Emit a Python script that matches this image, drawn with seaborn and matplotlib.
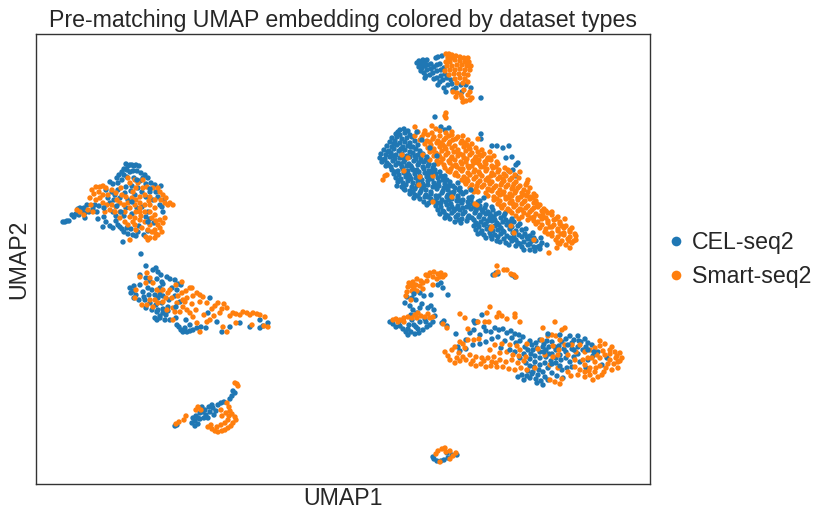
import pandas as pd
import matplotlib.pyplot as plt
import seaborn as sns

# point positions read off the picture, no real UMAP units available
# x goes left to right, y goes top to bottom
blue_left = [(63,222),(65,222),(67,221),(69,221),(72,215),(74,217),(76,214),(78,209),(80,208),(82,211),(84,208),(85,213),
    (87,205),(85,218),(79,215),(89,212),(93,209),(95,205),(97,212),(99,206),(98,219),(126,164),(128,166),(130,165),(132,165),
    (134,166),(136,165),(139,166),(124,169),(127,170),(122,172),(119,175),(117,178),(133,171),(137,171),(141,173),(145,175),
    (148,178),(151,183),(155,185),(113,184),(110,182),(118,183),(127,177),(122,180),(134,178),(140,181),(146,184),(106,190),
    (112,192),(118,190),(126,187),(132,186),(138,188),(125,193),(120,198),(114,200),(108,198),(128,200),(135,195),(142,192),
    (150,192),(156,192),(162,207),(163,212),(160,205),(164,200),(158,197),(103,227),(110,226),(113,228),(118,225),(120,227),
    (122,229),(124,232),(128,234),(133,235),(131,229),(136,236),(138,232),(144,235),(148,231),(123,242),(116,216),(124,216),
    (132,214),(104,217),(146,217),(150,219),(142,207),(126,208),(113,212),(161,186),(153,200),(130,172),(124,175),(143,178),
    (115,195),(110,203),(106,222),(116,221),(127,228),(139,226),(154,223),(148,212),(137,208),(131,191),(146,197)]
orange_left = [(92,190),(96,187),(100,187),(103,186),(106,188),(94,194),(99,192),(103,195),(108,195),(112,190),(116,193),
    (121,188),(130,183),(128,178),(135,180),(138,183),(143,180),(147,187),(153,188),(158,188),(160,192),(163,195),(166,198),
    (170,203),(173,205),(168,205),(165,203),(161,200),(155,200),(150,197),(145,195),(140,197),(136,200),(132,198),(128,203),
    (124,205),(120,203),(116,207),(112,205),(107,205),(103,203),(100,198),(90,198),(96,200),(93,212),(88,210),(80,212),(77,210),
    (84,215),(91,205),(105,212),(110,210),(115,212),(120,212),(125,212),(130,208),(135,205),(140,203),(145,205),(150,205),
    (155,208),(136,212),(140,212),(145,212),(150,212),(155,215),(160,220),(165,218),(163,223),(158,225),(155,230),(150,225),
    (145,222),(140,220),(135,218),(130,217),(125,222),(120,218),(128,225),(135,225),(160,228),(162,232),(158,235),(155,238),
    (150,238),(146,237),(152,232),(142,228),(136,230),(130,240),(156,234),(148,240),(143,188),(133,192),(122,195),(140,208),
    (149,201),(156,221),(141,216),(133,222),(152,218),(117,200),(126,197),(136,188),(148,230)]

blue_mid = [(141,254),(146,266),(153,270),(156,268),(158,272),(161,275),(140,275),(146,278),(150,281),(157,279),(162,282),
    (167,277),(130,288),(131,293),(134,286),(136,295),(140,285),(143,292),(148,288),(152,290),(160,288),(163,284),(170,279),
    (175,280),(178,284),(134,298),(139,300),(144,297),(155,295),(158,298),(163,296),(172,288),(177,290),(181,285),(150,303),
    (156,305),(162,303),(169,300),(146,308),(152,310),(157,312),(163,309),(168,307),(175,296),(180,302),(155,318),(160,316),
    (166,315),(170,320),(157,320),(165,320),(183,332),(177,325),(193,330),(197,328),(208,313),(210,298),(217,322),(240,323),
    (250,327),(260,328),(268,323),(260,320),(230,327),(222,332),(185,328),(190,331),(181,330),(206,328),(163,313),(176,318),
    (160,318),(168,311),(158,310),(187,332),(179,327),(201,327),(145,300),(149,295),(133,291),(186,320),(263,326)]
orange_mid = [(140,277),(150,278),(153,283),(157,290),(150,300),(147,305),(153,307),(163,302),(170,290),(182,282),(190,288),
    (197,293),(203,297),(207,303),(200,302),(218,303),(227,308),(220,313),(233,313),(240,315),(247,313),(253,313),(260,315),
    (265,317),(268,327),(252,325),(223,327),(200,332),(190,313),(183,307),(177,303),(182,293),(187,298),(193,317),(173,320),
    (167,310),(207,322),(197,323),(135,298),(136,290),(146,283),(158,303),(172,298),(168,293),(176,285),(186,291),(193,296),
    (192,304),(187,310),(180,312),(212,309),(215,306),(224,304),(230,316),(214,316),(204,315),(236,323),(227,332),(264,326),
    (243,312),(257,314),(163,290),(178,296),(173,308),(155,300),(142,305),(147,273),(166,298),(175,312),(185,302),(196,310),
    (200,295),(222,309),(236,314),(250,315),(210,320),(160,293),(183,300),(192,288)]

blue_low = [(175,426),(177,425),(192,423),(193,418),(195,421),(198,418),(200,413),(200,419),(203,412),(205,410),(206,415),
    (209,407),(210,412),(212,405),(213,408),(216,411),(218,405),(221,403),(224,402),(204,418),(208,418),(198,424),(195,426),
    (233,391),(235,393),(232,396),(230,399),(214,415),(202,407),(196,416)]
orange_low = [(235,383),(237,384),(238,386),(176,424),(179,422),(184,420),(186,416),(196,410),(198,407),(201,410),(221,410),
    (227,403),(229,407),(230,411),(232,414),(235,417),(236,420),(233,423),(231,426),(228,428),(225,430),(222,431),(218,432),
    (215,431),(212,429),(228,420),(225,423),(221,425),(217,427),(211,425),(208,427),(229,416),(222,416),(226,413)]

blue_top = [(417,63),(419,61),(421,64),(423,60),(425,62),(427,60),(419,67),(422,68),(425,66),(428,65),(431,64),(421,71),(424,73),
    (427,70),(431,69),(434,67),(437,65),(440,64),(438,57),(436,58),(442,56),(426,76),(430,75),(433,73),(437,71),(441,70),(444,68),
    (425,78),(434,79),(437,78),(441,76),(445,74),(440,82),(443,80),(447,78),(451,80),(438,85),(444,88),(448,85),(452,84),(446,92),
    (453,90),(456,88),(461,85),(466,85),(471,88),(481,98),(462,92)]
orange_top = [(446,54),(449,54),(452,55),(448,58),(452,58),(456,56),(460,57),(464,58),(468,58),(446,62),(450,62),(455,60),(460,61),
    (465,62),(469,62),(447,66),(452,66),(457,65),(462,65),(467,66),(471,66),(445,71),(450,70),(455,70),(460,69),(465,70),(470,70),
    (449,75),(454,74),(459,74),(464,74),(468,75),(455,79),(460,78),(465,79),(457,83),(463,83),(468,82),(453,92),(457,93),(461,95),
    (464,90),(468,95),(470,92),(472,98),(456,97),(462,98),(466,101),(470,100),(463,102)]

blue_big = [(435,117),(400,130),(404,129),(408,131),(396,134),(400,135),(405,133),(410,135),(392,138),(397,137),(402,139),(407,138),
    (412,137),(390,142),(395,141),(400,143),(405,142),(410,143),(415,141),(387,146),(392,147),(397,145),(403,147),(408,146),(413,147),
    (418,145),(384,150),(389,151),(394,149),(399,151),(405,150),(410,152),(416,149),(420,151),(381,154),(386,155),(391,153),(396,155),
    (402,154),(407,156),(413,153),(418,155),(423,154),(380,158),(385,159),(390,157),(395,159),(400,158),(405,160),(410,157),(416,159),
    (421,158),(426,160),(382,162),(387,163),(393,161),(398,163),(404,162),(409,164),(414,161),(419,163),(424,162),(429,164),(386,166),
    (391,167),(396,165),(402,167),(407,166),(412,168),(418,165),(423,167),(428,166),(433,168),(392,170),(398,171),(403,169),(408,171),
    (413,170),(419,172),(424,169),(429,171),(435,170),(394,174),(399,175),(404,173),(409,175),(415,174),(420,176),(425,173),(430,175),
    (436,174),(441,176),(396,178),(401,179),(406,177),(411,179),(416,178),(422,180),(427,177),(432,179),(438,178),(443,180),(398,182),
    (403,183),(408,181),(413,183),(418,182),(423,184),(428,181),(434,183),(439,182),(445,184),(450,182),(397,186),(402,187),(406,185),
    (412,187),(417,186),(422,188),(428,185),(433,187),(439,186),(444,188),(450,186),(455,188),(405,190),(410,191),(415,189),(421,191),
    (426,190),(431,192),(437,189),(443,191),(448,190),(454,192),(459,190),(410,194),(415,195),(420,193),(426,195),(431,194),(436,196),
    (442,193),(448,195),(453,194),(458,196),(463,194),(414,198),(420,199),(425,197),(431,199),(437,198),(442,200),(447,197),(452,199),
    (458,198),(463,200),(469,198),(424,202),(429,203),(435,201),(441,203),(446,202),(451,204),(457,201),(462,203),(468,202),(473,204),
    (478,202),(436,206),(441,207),(447,205),(452,207),(458,206),(463,208),(469,205),(474,207),(480,206),(485,208),(438,210),(443,211),
    (449,209),(454,211),(460,210),(465,212),(471,209),(476,211),(482,210),(488,212),(493,210),(440,214),(446,215),(452,213),(458,215),
    (463,214),(469,216),(475,213),(480,215),(486,214),(491,216),(496,214),(445,218),(450,219),(456,217),(462,219),(468,218),(474,220),
    (479,217),(484,219),(490,218),(495,220),(501,218),(506,220),(455,222),(461,223),(467,221),(476,223),(481,222),(486,224),(492,221),
    (497,223),(503,222),(508,224),(514,222),(474,226),(479,227),(484,225),(490,227),(495,226),(501,228),(507,225),(512,227),(518,226),
    (476,230),(482,231),(487,229),(493,231),(498,230),(504,232),(510,229),(516,231),(522,230),(478,234),(484,235),(490,233),(495,235),
    (501,234),(507,236),(513,233),(519,235),(525,234),(530,236),(486,238),(492,239),(498,237),(504,239),(510,238),(516,240),(522,237),
    (528,239),(534,238),(500,242),(506,243),(512,241),(518,243),(524,242),(530,244),(536,241),(542,243),(516,246),(522,247),(528,245),
    (534,247),(540,246),(530,250),(535,251),(540,249),(481,134),(481,139),(492,146),(497,146),(503,148),(509,146),(506,158),(512,157),
    (516,165),(513,170),(509,171),(516,176),(518,163),(445,130),(441,127),(449,128)]
# second pass over the big cluster, filling what the rows above miss
blue_big_fill = [(398,132),(394,144),(401,149),(388,152),(411,147),(383,160),(393,156),(403,158),(415,156),(389,165),(401,164),(411,166),
    (421,161),(395,172),(406,173),(417,170),(427,174),(400,180),(410,177),(420,178),(431,177),(404,189),(413,192),(424,186),(435,185),
    (447,186),(418,196),(428,197),(439,196),(451,193),(461,192),(427,205),(438,203),(449,200),(460,201),(471,200),(444,212),(456,209),
    (467,207),(478,208),(490,214),(448,216),(459,220),(472,218),(483,212),(494,217),(504,216),(478,225),(488,221),(499,225),(510,222),
    (481,233),(491,236),(503,231),(514,237),(527,237),(497,241),(509,245),(520,244),(532,241),(538,247),(524,250)]
orange_big = [(446,113),(445,116),(446,118),(415,127),(432,126),(418,132),(425,131),(432,133),(440,131),(446,133),(452,132),(415,136),
    (422,137),(428,135),(434,137),(440,136),(446,138),(452,135),(458,137),(463,136),(420,140),(427,141),(433,139),(438,141),(444,140),
    (450,142),(456,139),(462,141),(468,140),(478,139),(425,144),(431,145),(437,143),(443,145),(449,144),(455,146),(461,143),(467,145),
    (472,144),(428,148),(434,149),(440,147),(446,149),(452,148),(458,150),(464,147),(470,149),(476,148),(482,150),(430,152),(436,153),
    (442,151),(448,153),(454,152),(460,154),(466,151),(472,153),(478,152),(484,154),(490,152),(434,156),(440,157),(446,155),(452,157),
    (458,156),(464,158),(470,155),(476,157),(482,156),(488,158),(494,156),(430,160),(437,161),(443,159),(449,161),(455,160),(461,162),
    (467,159),(473,161),(479,160),(485,162),(491,160),(497,162),(438,164),(444,165),(450,163),(456,165),(462,164),(468,166),(474,163),
    (480,165),(486,164),(492,166),(498,164),(445,168),(451,169),(457,167),(463,169),(469,168),(475,170),(481,167),(487,169),(493,168),
    (499,170),(505,168),(450,172),(456,173),(462,171),(468,173),(474,172),(480,174),(486,171),(492,173),(498,172),(504,174),(510,172),
    (520,172),(458,176),(464,177),(470,175),(476,177),(482,176),(488,178),(494,175),(500,177),(506,176),(512,178),(462,180),(468,181),
    (474,179),(480,181),(486,180),(492,182),(498,179),(504,181),(510,180),(516,182),(528,180),(466,184),(472,185),(478,183),(484,185),
    (490,184),(496,186),(502,183),(508,185),(514,184),(520,186),(470,188),(476,189),(482,187),(488,189),(494,188),(500,190),(506,187),
    (512,189),(518,188),(524,190),(530,188),(478,192),(486,193),(492,191),(498,193),(504,192),(510,194),(516,191),(522,193),(528,192),
    (534,194),(488,196),(494,197),(500,195),(506,197),(512,196),(518,198),(524,195),(530,197),(536,196),(494,200),(500,201),(506,199),
    (512,201),(518,200),(524,202),(530,199),(536,201),(498,204),(504,205),(510,203),(516,205),(522,204),(528,206),(534,203),(540,205),
    (502,208),(508,209),(514,207),(520,209),(526,208),(532,210),(538,207),(544,209),(506,212),(512,213),(518,211),(524,213),(530,212),
    (536,214),(542,211),(548,213),(552,212),(516,216),(522,217),(528,215),(534,217),(540,216),(546,218),(552,215),(558,217),(528,220),
    (534,221),(542,219),(548,221),(554,220),(560,222),(565,219),(536,224),(542,225),(548,223),(554,225),(560,224),(566,226),(540,228),
    (546,229),(552,227),(558,229),(564,228),(570,230),(545,232),(552,233),(558,231),(564,233),(570,232),(575,234),(552,236),(558,237),
    (564,235),(570,237),(576,236),(556,240),(562,241),(568,239),(574,241),(560,244),(566,245),(572,243),(557,248),(570,248),(549,253),
    (383,180),(385,176),(387,175),(404,171),(420,177),(419,185),(433,202),(433,176),(402,155),(408,158),(452,197),(477,205),(491,229),
    (492,227),(511,226),(514,233),(534,240),(475,204),(423,155)]
orange_big_fill = [(424,134),(436,129),(449,136),(430,142),(441,143),(453,140),(465,143),(433,151),(445,147),(457,152),(469,147),(480,155),
    (439,155),(451,159),(463,155),(475,159),(487,160),(441,162),(453,166),(466,162),(478,163),(490,158),(448,171),(460,169),(472,166),
    (484,167),(496,167),(508,170),(455,175),(467,179),(479,172),(491,176),(503,179),(515,175),(465,182),(477,186),(489,181),(501,185),
    (513,187),(526,185),(474,192),(490,190),(503,194),(515,193),(527,196),(497,199),(509,198),(521,197),(533,198),(501,206),(513,204),
    (525,201),(537,204),(510,211),(522,210),(534,208),(546,211),(519,219),(531,218),(543,215),(556,219),(538,222),(550,227),(562,226),
    (548,234),(561,234),(572,228),(558,243),(569,241),(576,240),(527,183),(519,178)]

blue_lowright = [(390,322),(393,324),(396,327),(399,322),(403,329),(408,335),(411,332),(415,334),(418,329),(423,330),(427,327),(433,322),
    (413,310),(417,313),(405,303),(410,306),(407,297),(412,298),(416,300),(420,293),(424,296),(422,304),(428,308),(431,306),(434,310),
    (435,316),(443,288),(448,295),(438,285),(441,283),(409,325),(414,325),(420,322),(403,320),(412,320),(425,319),(444,321),(447,326),
    (442,323),(408,329),(400,326),(406,332),(419,333),(416,327),(430,325),(426,322),(411,315)]
orange_lowright = [(430,273),(434,272),(438,274),(443,277),(441,273),(445,275),(426,275),(433,277),(437,279),(413,282),(417,279),(421,281),
    (408,287),(412,286),(416,285),(420,286),(407,292),(412,291),(417,291),(423,283),(427,281),(433,285),(406,296),(411,300),(423,289),
    (393,320),(396,319),(400,320),(404,318),(408,317),(412,318),(417,318),(421,316),(425,317),(430,318),(433,317),(398,322),(404,322),
    (415,315),(443,324),(447,328),(428,276),(440,277),(414,289),(409,283),(418,313),(428,314)]

blue_east = [(475,323),(474,321),(477,322),(480,335),(484,327),(474,330),(470,333),(482,315),(486,331),(491,332),(495,328),(499,330),
    (503,329),(507,333),(511,331),(515,334),(519,335),(512,338),(523,337),(516,343),(520,341),(530,341),(532,345),(533,350),(536,343),
    (540,340),(544,344),(547,341),(549,347),(552,342),(556,350),(559,346),(562,342),(566,339),(570,336),(574,340),(578,336),(581,342),
    (585,339),(588,343),(592,345),(583,350),(578,347),(572,349),(566,352),(560,355),(556,358),(552,354),(546,350),(540,352),(535,356),
    (530,359),(526,363),(530,366),(535,362),(540,358),(546,357),(551,361),(556,363),(561,360),(566,358),(570,362),(574,357),(578,354),
    (540,365),(545,363),(548,368),(543,372),(538,375),(533,372),(528,371),(522,375),(518,377),(524,380),(530,378),(536,379),(541,381),
    (545,377),(552,373),(557,376),(562,370),(567,368),(572,367),(580,362),(588,360),(593,356),(598,352),(505,341),(498,337),(492,339),
    (486,342),(480,344),(473,345),(466,349),(460,351),(528,350),(524,354),(520,358),(515,352),(543,385),(548,380),(563,378),(501,348),
    (458,347),(466,340),(456,334),(586,368),(602,365),(607,358),(537,348),(531,354),(543,347),(549,354),(534,367),(527,376),(539,370),
    (555,347),(564,349),(572,343),(579,341),(586,347),(525,347),(537,383),(532,374)]
orange_east = [(445,352),(448,356),(452,350),(455,347),(459,353),(463,357),(450,360),(455,363),(460,361),(466,360),(471,364),(476,366),
    (481,364),(486,367),(491,366),(470,355),(476,357),(482,358),(488,358),(494,357),(500,360),(506,362),(512,360),(518,363),(524,361),
    (492,362),(497,367),(503,367),(509,369),(515,370),(521,368),(527,370),(500,353),(507,352),(513,355),(519,356),(526,357),(465,348),
    (468,340),(474,340),(479,339),(490,350),(495,345),(502,344),(510,345),(517,346),(460,342),(463,344),(468,329),(497,317),(499,313),
    (502,316),(507,319),(515,317),(520,322),(465,318),(460,314),(478,322),(485,322),(490,307),(487,313),(489,322),(515,314),(543,328),
    (552,335),(562,330),(555,322),(565,328),(556,336),(560,340),(542,340),(548,336),(553,346),(558,355),(565,345),(568,355),(572,345),
    (576,352),(580,345),(585,352),(590,350),(595,348),(600,346),(605,344),(610,350),(615,352),(620,353),(622,358),(618,362),(614,364),
    (610,360),(605,355),(600,358),(595,362),(590,368),(585,372),(580,370),(575,367),(600,366),(606,368),(612,370),(618,368),(595,372),
    (590,375),(585,377),(578,375),(604,372),(598,377),(593,380),(550,380),(555,382),(560,384),(562,379),(571,376),(535,368),(545,355),
    (550,365),(568,372),(558,368),(575,360),(583,360),(588,358),(610,354),(616,358),(559,350),(553,357),(538,349),(527,344),(520,350),
    (597,355),(603,351),(592,358),(585,365),(596,368),(608,364),(602,375),(589,371),(612,347),(617,356),(620,361),(600,341),(457,358),
    (473,361),(484,361),(496,363)]

blue_small = [(493,275),(496,273),(498,274),(512,275),(515,277),(434,459),(437,461),(441,461),(444,460),(448,458),(452,455),(457,455),
    (433,457),(447,453)]
orange_small = [(497,266),(504,270),(507,270),(511,274),(514,275),(516,277),(495,275),(498,272),(442,449),(445,448),(438,451),(436,454),
    (446,452),(450,451),(453,456),(450,459),(456,453),(440,462)]

# blue points that sit on top of the orange ones in the picture
blue_over = [(427,157),(434,165),(440,172),(447,180),(453,186),(460,188),(466,192),(472,197),(480,201),(486,205),(492,207),(499,213),
    (505,214),(512,219),(520,224),(526,229),(533,233),(541,238),(547,245),(430,148),(422,140),(417,132),(437,156),(432,172),(445,176),
    (458,183),(471,190),(484,198),(548,334),(560,335),(568,345),(574,350),(552,364),(560,366),(544,352),(588,350),(594,352),(510,350),
    (117,206),(132,202),(148,222),(104,208),(137,180),(150,189),(121,212),(160,295),(176,307),(190,325),(420,308),(414,294),(431,295)]

umap_limits = [36, 650]
umap_y_limits = [484, 34]
dataset_names = ['CEL-seq2', 'Smart-seq2']
dataset_colors = ['#1f77b4', '#ff7f0e']

blue_points = blue_left + blue_mid + blue_low + blue_top + blue_big + blue_big_fill + blue_lowright + blue_east + blue_small
orange_points = orange_left + orange_mid + orange_low + orange_top + orange_big + orange_big_fill + orange_lowright + orange_east + orange_small

df_blue = pd.DataFrame(blue_points, columns=['UMAP1', 'UMAP2'])
df_blue['dataset'] = dataset_names[0]
df_orange = pd.DataFrame(orange_points, columns=['UMAP1', 'UMAP2'])
df_orange['dataset'] = dataset_names[1]
df_over = pd.DataFrame(blue_over, columns=['UMAP1', 'UMAP2'])
df_over['dataset'] = dataset_names[0]
df = pd.concat([df_blue, df_orange, df_over], ignore_index=True)

sns.set_style('white')
plt.rcParams['font.family'] = ['Liberation Sans', 'DejaVu Sans']

fig = plt.figure(figsize=(8.31, 5.2), dpi=100)
ax = fig.add_axes([36 / 831, 1 - 484 / 520, 614 / 831, 450 / 520])
sns.scatterplot(data=df, x='UMAP1', y='UMAP2', hue='dataset', hue_order=dataset_names,
                palette=dataset_colors, s=15, linewidth=0, ax=ax)
ax.set_xlim(umap_limits)
ax.set_ylim(umap_y_limits)
ax.set_xticks([])
ax.set_yticks([])
ax.set_title('Pre-matching UMAP embedding colored by dataset types', fontsize=16.7, pad=5, color='#262626')
ax.set_xlabel('UMAP1', fontsize=16.7, labelpad=2, color='#262626')
ax.set_ylabel('UMAP2', fontsize=16.7, labelpad=4, color='#262626')
for spine in ax.spines.values():
    spine.set_color('#333333')
    spine.set_linewidth(1.0)

# legend to the right of the axes
ax.legend(loc='center left', bbox_to_anchor=(1.029, 0.499), frameon=False, fontsize=16.7,
          markerscale=1.8, handlelength=0.7, handletextpad=0.35, labelspacing=0.5,
          borderpad=0, borderaxespad=0, labelcolor='#262626')

fig.savefig('out.png', dpi=100)
